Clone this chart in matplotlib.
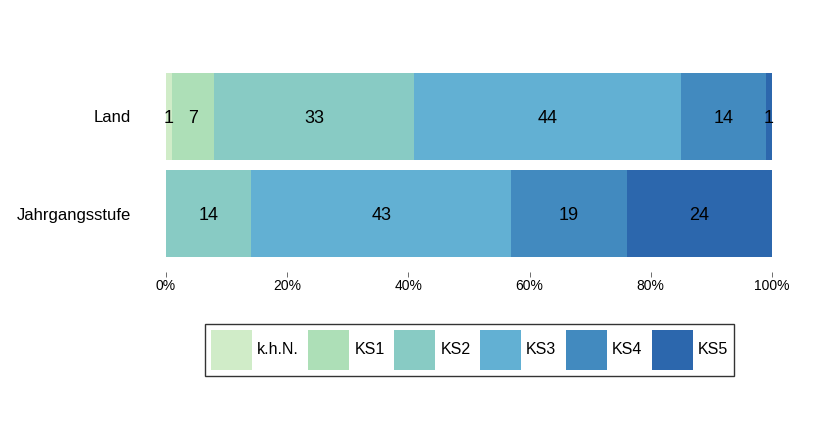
import matplotlib.pyplot as plt
from matplotlib.patches import Patch

plt.rcParams['font.family'] = ['Liberation Sans', 'DejaVu Sans']

gruppen = ['Land', 'Jahrgangsstufe']
stufen = ['k.h.N.', 'KS1', 'KS2', 'KS3', 'KS4', 'KS5']
land = [1, 7, 33, 44, 14, 1]
jahrgang = [0, 0, 14, 43, 19, 24]
farben = ['#d0ecc8', '#addfb7', '#88cbc4', '#62b0d3', '#428abf', '#2c67ad']

werte = [land, jahrgang]

fig = plt.figure(figsize=(8.2, 4.37), dpi=100)
ax = fig.add_axes([166 / 820, 1 - 257 / 437, 606 / 820, 184 / 437])

pos = [1, 0]
for g, (y, reihe) in enumerate(zip(pos, werte)):
    links = 0
    for i, w in enumerate(reihe):
        if w > 0:
            ax.barh(y, w, left=links, height=0.888, color=farben[i], linewidth=0)
            ax.text(links + w / 2, y, str(w), ha='center', va='center_baseline', fontsize=13)
        links += w

ax.set_xlim(0, 100)
ax.set_ylim(-0.444, 1.444)
ax.set_yticks(pos)
ax.set_yticklabels(gruppen, fontsize=12)
ax.set_xticks([0, 20, 40, 60, 80, 100])
ax.set_xticklabels(['0%', '20%', '40%', '60%', '80%', '100%'], fontsize=12.5)
ax.tick_params(axis='y', length=0, pad=25)
ax.spines['bottom'].set_position(('outward', 11))
ax.tick_params(axis='x', length=3.6, color='#555555', width=0.6, pad=1.5, direction='out')
for s in ax.spines.values():
    s.set_visible(False)

handles = [Patch(facecolor=c, edgecolor='none') for c in farben]
leg = fig.legend(handles, stufen, loc='center', bbox_to_anchor=(469.5 / 820, 1 - 350 / 437),
                 ncol=6, fontsize=11.5, frameon=True, fancybox=False, handlelength=2.57,
                 handleheight=3.48, handletextpad=0.31, columnspacing=0.6, borderpad=0.4)
leg.get_frame().set_edgecolor('black')
leg.get_frame().set_linewidth(1)

fig.savefig('out.png', dpi=100)
